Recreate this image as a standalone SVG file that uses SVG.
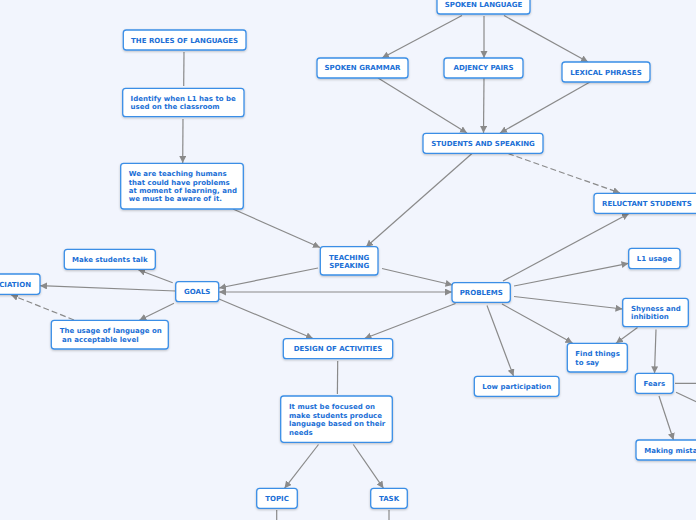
<svg xmlns="http://www.w3.org/2000/svg" width="696" height="520" viewBox="0 0 696 520">
<style>
.bg{fill:#f2f5fd}
.n rect{fill:#ffffff;stroke:#3a8ee6;stroke-width:1.3;filter:url(#sh)}
.n text{font-family:"DejaVu Sans",Verdana,sans-serif;font-weight:bold;font-size:7px;fill:#1b6fd6}
.c{text-anchor:middle}
.e line{stroke:#8a8a8a;stroke-width:1.2;fill:none}
.a{marker-end:url(#ar)}
.d{stroke-dasharray:6,3}
</style>
<defs>
<filter id="sh" x="-20%" y="-30%" width="140%" height="170%">
<feDropShadow dx="0" dy="1" stdDeviation="1" flood-color="#000" flood-opacity="0.22"/>
</filter>
<marker id="ar" markerUnits="userSpaceOnUse" markerWidth="8" markerHeight="8" refX="7" refY="3.5" orient="auto-start-reverse">
<path d="M0,0 L7,3.5 L0,7 z" fill="#8a8a8a"/>
</marker>
</defs>
<rect class="bg" x="0" y="0" width="696" height="520"/>
<g class="e" id="connectors">
<line class="a" x1="462" y1="15.5" x2="382" y2="58"/>
<line class="a" x1="484" y1="16" x2="484" y2="58"/>
<line class="a" x1="504" y1="15.5" x2="588" y2="62"/>
<line class="a" x1="378" y1="78" x2="467" y2="133"/>
<line class="a" x1="484" y1="78" x2="483.5" y2="133"/>
<line class="a" x1="590" y1="82" x2="500" y2="133"/>
<line class="a" x1="472" y1="153.5" x2="366" y2="247"/>
<line class="a d" x1="508" y1="153.5" x2="620" y2="193"/>
<line x1="184" y1="52" x2="183.7" y2="86"/>
<line class="a" x1="183" y1="119" x2="182.7" y2="163"/>
<line class="a" x1="233" y1="209" x2="320" y2="247.5"/>
<line class="a" x1="382" y1="268.5" x2="452.5" y2="285"/>
<line class="a" x1="318" y1="268" x2="219" y2="288"/>
<line class="a" style="marker-start:url(#ar)" x1="219" y1="292" x2="452" y2="292"/>
<line class="a" x1="503" y1="281" x2="629" y2="213.5"/>
<line class="a" x1="514" y1="286" x2="628.5" y2="263.3"/>
<line class="a" x1="514" y1="296.5" x2="622.5" y2="309"/>
<line class="a" x1="502" y1="304" x2="572.5" y2="343"/>
<line class="a" x1="487" y1="305.5" x2="513.5" y2="376"/>
<line class="a" x1="455.5" y1="303.5" x2="364.5" y2="338.5"/>
<line class="a" x1="219" y1="299" x2="313" y2="338.5"/>
<line class="a" x1="637.5" y1="327.5" x2="616" y2="343.3"/>
<line class="a" x1="656" y1="329.5" x2="654.5" y2="373.3"/>
<line x1="675" y1="383.3" x2="710" y2="383.3"/>
<line x1="676" y1="392.3" x2="720" y2="413"/>
<line class="a" x1="659" y1="396" x2="673.5" y2="440"/>
<line x1="337.7" y1="361" x2="337.4" y2="394"/>
<line class="a" x1="318.5" y1="444.5" x2="284.5" y2="488.3"/>
<line class="a" x1="353.3" y1="444.5" x2="383.5" y2="488.3"/>
<line x1="276.7" y1="510" x2="276.7" y2="522"/>
<line x1="389" y1="510" x2="389" y2="522"/>
<line class="a" x1="172.7" y1="282.7" x2="138.3" y2="269.8"/>
<line class="a" x1="175.7" y1="291" x2="40" y2="285.7"/>
<line class="a" x1="174" y1="303.3" x2="139.3" y2="320.3"/>
<line class="a d" x1="74" y1="320" x2="11" y2="294.8"/>
</g>
<g class="n" id="spoken_language"><rect x="437" y="-6" width="93" height="20" rx="3"/><text class="c" x="483.5" y="6.8">SPOKEN LANGUAGE</text></g>
<g class="n" id="spoken_grammar"><rect x="317" y="58" width="91" height="20" rx="3"/><text class="c" x="362.5" y="70.3">SPOKEN GRAMMAR</text></g>
<g class="n" id="adjency_pairs"><rect x="444" y="58" width="79" height="20" rx="3"/><text class="c" x="483.5" y="70.3">ADJENCY PAIRS</text></g>
<g class="n" id="lexical_phrases"><rect x="562" y="62" width="88" height="20" rx="3"/><text class="c" x="606" y="74.8">LEXICAL PHRASES</text></g>
<g class="n" id="students_speaking"><rect x="423" y="133.3" width="120" height="20" rx="3"/><text class="c" x="483" y="145.8">STUDENTS AND SPEAKING</text></g>
<g class="n" id="reluctant_students"><rect x="594" y="193.3" width="108" height="20" rx="3"/><text x="602" y="205.8">RELUCTANT STUDENTS</text></g>
<g class="n" id="roles_of_languages"><rect x="123.3" y="30" width="122.7" height="20" rx="3"/><text class="c" x="184.6" y="42.6">THE ROLES OF LANGUAGES</text></g>
<g class="n" id="identify_l1"><rect x="122.7" y="88.3" width="121.3" height="28.4" rx="3"/><text x="130.6" y="101.3">Identify when L1 has to be</text><text x="130.6" y="109.3">used on the classroom</text></g>
<g class="n" id="teaching_humans"><rect x="120.7" y="163.3" width="122.6" height="45.7" rx="3"/><text x="128.7" y="176.3">We are teaching humans</text><text x="128.7" y="184.6">that could have problems</text><text x="128.7" y="193.1">at moment of learning, and</text><text x="128.7" y="201.2">we must be aware of it.</text></g>
<g class="n" id="teaching_speaking"><rect x="320.3" y="246.7" width="57.7" height="28.3" rx="3"/><text class="c" x="349.2" y="259.9">TEACHING</text><text class="c" x="349.2" y="267.9">SPEAKING</text></g>
<g class="n" id="problems"><rect x="452" y="282.7" width="58.3" height="19.6" rx="3"/><text class="c" x="481.2" y="295">PROBLEMS</text></g>
<g class="n" id="l1_usage"><rect x="628.7" y="248.3" width="51.3" height="20.4" rx="3"/><text class="c" x="654.4" y="261">L1 usage</text></g>
<g class="n" id="shyness"><rect x="622.7" y="298.3" width="65.6" height="28.4" rx="3"/><text x="631" y="311.3">Shyness and</text><text x="631" y="319.3">inhibition</text></g>
<g class="n" id="find_things"><rect x="567.3" y="343.3" width="60" height="28.7" rx="3"/><text x="575.3" y="356.3">Find things</text><text x="575.3" y="365.2">to say</text></g>
<g class="n" id="low_participation"><rect x="474.3" y="376.3" width="84.7" height="20" rx="3"/><text class="c" x="516.7" y="388.8">Low participation</text></g>
<g class="n" id="fears"><rect x="635.3" y="373.3" width="38" height="20" rx="3"/><text class="c" x="654.3" y="385.8">Fears</text></g>
<g class="n" id="making_mistakes"><rect x="636" y="440" width="75" height="20" rx="3"/><text x="644.3" y="452.5">Making mistakes</text></g>
<g class="n" id="design_activities"><rect x="283.3" y="338.7" width="109.4" height="20" rx="3"/><text class="c" x="338" y="351.2">DESIGN OF ACTIVITIES</text></g>
<g class="n" id="focused_needs"><rect x="280.7" y="396" width="111.6" height="46.3" rx="3"/><text x="289" y="409.2">It must be focused on</text><text x="289" y="417.8">make students produce</text><text x="289" y="426.2">language based on their</text><text x="289" y="434.8">needs</text></g>
<g class="n" id="topic"><rect x="256.7" y="488.3" width="40.6" height="20" rx="3"/><text class="c" x="277" y="500.8">TOPIC</text></g>
<g class="n" id="task"><rect x="370.7" y="488.3" width="36.6" height="20" rx="3"/><text class="c" x="389" y="500.8">TASK</text></g>
<g class="n" id="goals"><rect x="175.7" y="281.7" width="43" height="20" rx="3"/><text class="c" x="197.2" y="294.2">GOALS</text></g>
<g class="n" id="make_students_talk"><rect x="64.3" y="249.3" width="91" height="20" rx="3"/><text class="c" x="109.8" y="261.8">Make students talk</text></g>
<g class="n" id="pronunciation"><rect x="-60" y="274" width="100" height="20.3" rx="3"/><text x="31" y="286.8" text-anchor="end">PRONUNCIATION</text></g>
<g class="n" id="usage_language"><rect x="51.3" y="320.3" width="117" height="28.7" rx="3"/><text x="59.7" y="333.2">The usage of language on</text><text x="59.7" y="341.8" xml:space="preserve"> an acceptable level</text></g>
</svg>
